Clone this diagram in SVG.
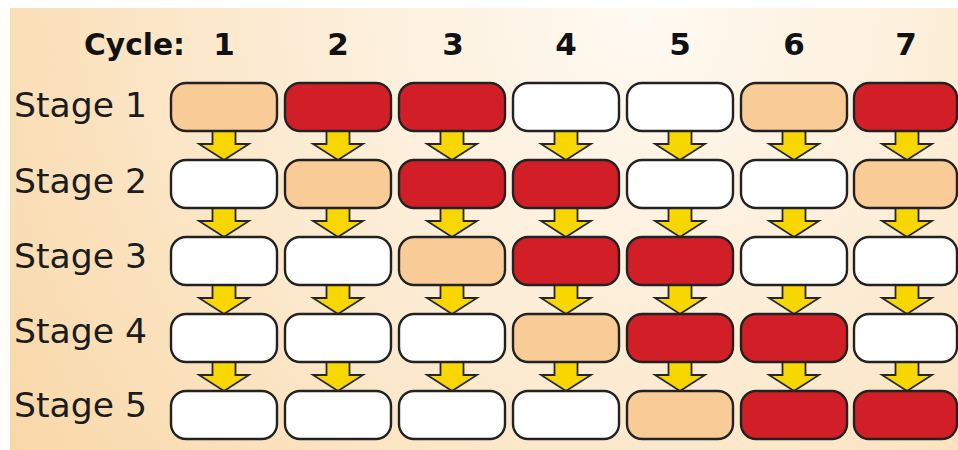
<svg xmlns="http://www.w3.org/2000/svg" width="958" height="450" viewBox="0 0 958 450">
  <defs>
    <radialGradient id="bg" cx="640" cy="10" r="760" gradientUnits="userSpaceOnUse">
      <stop offset="0" stop-color="#fffaf2"/>
      <stop offset="0.5" stop-color="#fcebd2"/>
      <stop offset="1" stop-color="#f9d8a8"/>
    </radialGradient>
    <path id="arrow" d="M-11.5,-14 H11.5 V0 H25 L0,16 L-25,0 H-11.5 Z"/>
  </defs>
  <style>
    .cell { stroke: #222222; stroke-width: 2.4; }
    .idle { fill: #ffffff; }
    .fetch { fill: #f8cb97; }
    .busy { fill: #d21f27; }
    .flow { fill: #f8d600; stroke: #262626; stroke-width: 1.8; stroke-linejoin: miter; }
    .stage { font-family: "DejaVu Sans", Verdana, sans-serif; font-size: 33px; fill: #1c1c1c; }
    .head { font-family: "DejaVu Sans", Verdana, sans-serif; font-size: 31px; font-weight: bold; fill: #111111; }
  </style>

  <rect width="958" height="450" fill="#ffffff"/>
  <rect x="10" y="8" width="948" height="442" fill="url(#bg)"/>

  <!-- header row -->
  <g id="header">
    <text class="head" x="84" y="55" textLength="101" lengthAdjust="spacingAndGlyphs">Cycle:</text>
    <g text-anchor="middle">
      <text class="head" x="224" y="55">1</text>
      <text class="head" x="338" y="55">2</text>
      <text class="head" x="453" y="55">3</text>
      <text class="head" x="566" y="55">4</text>
      <text class="head" x="680" y="55">5</text>
      <text class="head" x="794" y="55">6</text>
      <text class="head" x="906" y="55">7</text>
    </g>
  </g>

  <!-- stage labels -->
  <g id="labels">
    <text class="stage" x="14" y="117" textLength="133" lengthAdjust="spacingAndGlyphs">Stage 1</text>
    <text class="stage" x="14" y="193" textLength="133" lengthAdjust="spacingAndGlyphs">Stage 2</text>
    <text class="stage" x="14" y="268" textLength="133" lengthAdjust="spacingAndGlyphs">Stage 3</text>
    <text class="stage" x="14" y="343" textLength="133" lengthAdjust="spacingAndGlyphs">Stage 4</text>
    <text class="stage" x="14" y="417" textLength="133" lengthAdjust="spacingAndGlyphs">Stage 5</text>
  </g>

  <!-- downward arrows between stages (drawn under the cells) -->
  <g id="connectors" class="flow">
    <use href="#arrow" x="224" y="144"/><use href="#arrow" x="224" y="221"/><use href="#arrow" x="224" y="298"/><use href="#arrow" x="224" y="375"/>
    <use href="#arrow" x="338" y="144"/><use href="#arrow" x="338" y="221"/><use href="#arrow" x="338" y="298"/><use href="#arrow" x="338" y="375"/>
    <use href="#arrow" x="452" y="144"/><use href="#arrow" x="452" y="221"/><use href="#arrow" x="452" y="298"/><use href="#arrow" x="452" y="375"/>
    <use href="#arrow" x="566" y="144"/><use href="#arrow" x="566" y="221"/><use href="#arrow" x="566" y="298"/><use href="#arrow" x="566" y="375"/>
    <use href="#arrow" x="680" y="144"/><use href="#arrow" x="680" y="221"/><use href="#arrow" x="680" y="298"/><use href="#arrow" x="680" y="375"/>
    <use href="#arrow" x="794" y="144"/><use href="#arrow" x="794" y="221"/><use href="#arrow" x="794" y="298"/><use href="#arrow" x="794" y="375"/>
    <use href="#arrow" x="907" y="144"/><use href="#arrow" x="907" y="221"/><use href="#arrow" x="907" y="298"/><use href="#arrow" x="907" y="375"/>
  </g>

  <!-- pipeline cells: one group per cell -->
  <g id="s1c1"><rect class="cell fetch" x="171" y="83" width="106" height="48" rx="15"/></g>
  <g id="s1c2"><rect class="cell busy" x="285" y="83" width="106" height="48" rx="15"/></g>
  <g id="s1c3"><rect class="cell busy" x="399" y="83" width="106" height="48" rx="15"/></g>
  <g id="s1c4"><rect class="cell idle" x="513" y="83" width="106" height="48" rx="15"/></g>
  <g id="s1c5"><rect class="cell idle" x="627" y="83" width="106" height="48" rx="15"/></g>
  <g id="s1c6"><rect class="cell fetch" x="741" y="83" width="106" height="48" rx="15"/></g>
  <g id="s1c7"><rect class="cell busy" x="854" y="83" width="103" height="48" rx="15"/></g>

  <g id="s2c1"><rect class="cell idle" x="171" y="160" width="106" height="48" rx="15"/></g>
  <g id="s2c2"><rect class="cell fetch" x="285" y="160" width="106" height="48" rx="15"/></g>
  <g id="s2c3"><rect class="cell busy" x="399" y="160" width="106" height="48" rx="15"/></g>
  <g id="s2c4"><rect class="cell busy" x="513" y="160" width="106" height="48" rx="15"/></g>
  <g id="s2c5"><rect class="cell idle" x="627" y="160" width="106" height="48" rx="15"/></g>
  <g id="s2c6"><rect class="cell idle" x="741" y="160" width="106" height="48" rx="15"/></g>
  <g id="s2c7"><rect class="cell fetch" x="854" y="160" width="103" height="48" rx="15"/></g>

  <g id="s3c1"><rect class="cell idle" x="171" y="237" width="106" height="48" rx="15"/></g>
  <g id="s3c2"><rect class="cell idle" x="285" y="237" width="106" height="48" rx="15"/></g>
  <g id="s3c3"><rect class="cell fetch" x="399" y="237" width="106" height="48" rx="15"/></g>
  <g id="s3c4"><rect class="cell busy" x="513" y="237" width="106" height="48" rx="15"/></g>
  <g id="s3c5"><rect class="cell busy" x="627" y="237" width="106" height="48" rx="15"/></g>
  <g id="s3c6"><rect class="cell idle" x="741" y="237" width="106" height="48" rx="15"/></g>
  <g id="s3c7"><rect class="cell idle" x="854" y="237" width="103" height="48" rx="15"/></g>

  <g id="s4c1"><rect class="cell idle" x="171" y="314" width="106" height="48" rx="15"/></g>
  <g id="s4c2"><rect class="cell idle" x="285" y="314" width="106" height="48" rx="15"/></g>
  <g id="s4c3"><rect class="cell idle" x="399" y="314" width="106" height="48" rx="15"/></g>
  <g id="s4c4"><rect class="cell fetch" x="513" y="314" width="106" height="48" rx="15"/></g>
  <g id="s4c5"><rect class="cell busy" x="627" y="314" width="106" height="48" rx="15"/></g>
  <g id="s4c6"><rect class="cell busy" x="741" y="314" width="106" height="48" rx="15"/></g>
  <g id="s4c7"><rect class="cell idle" x="854" y="314" width="103" height="48" rx="15"/></g>

  <g id="s5c1"><rect class="cell idle" x="171" y="391" width="106" height="48" rx="15"/></g>
  <g id="s5c2"><rect class="cell idle" x="285" y="391" width="106" height="48" rx="15"/></g>
  <g id="s5c3"><rect class="cell idle" x="399" y="391" width="106" height="48" rx="15"/></g>
  <g id="s5c4"><rect class="cell idle" x="513" y="391" width="106" height="48" rx="15"/></g>
  <g id="s5c5"><rect class="cell fetch" x="627" y="391" width="106" height="48" rx="15"/></g>
  <g id="s5c6"><rect class="cell busy" x="741" y="391" width="106" height="48" rx="15"/></g>
  <g id="s5c7"><rect class="cell busy" x="854" y="391" width="103" height="48" rx="15"/></g>
</svg>
